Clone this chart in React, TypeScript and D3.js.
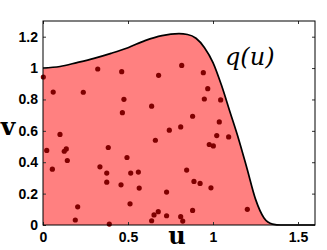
import React, { useEffect, useRef } from "react";
import * as d3 from "d3";

// curve q(u)
const curveU = [0, 0.1, 0.2, 0.3, 0.4, 0.5, 0.6, 0.7, 0.8, 0.85, 0.9, 0.95, 1.0, 1.05, 1.1, 1.15, 1.2, 1.25, 1.3, 1.35, 1.4, 1.5, 1.6];
const curveV = [1.0, 1.01, 1.035, 1.062, 1.094, 1.13, 1.175, 1.207, 1.219, 1.214, 1.19, 1.13, 1.035, 0.89, 0.72, 0.55, 0.36, 0.165, 0.045, 0.006, 0, 0, 0];

// sample points
const dotU = [0.002, 0.06, 0.237, 0.322, 0.463, 0.68, 0.476, 0.467, 0.639, 0.816, 0.943, 0.969, 0.949, 1.045, 0.88, 1.037,
  0.022, 0.1, 0.125, 0.137, 0.143, 0.055, 0.384, 0.335, 0.375, 0.375, 0.494, 0.516, 0.561, 0.459, 0.566, 0.512, 0.204, 0.19, 0.39,
  0.661, 0.639, 0.653, 0.678, 0.743, 0.81, 1.022, 1.092, 0.978, 1.002, 0.845, 0.888, 0.924, 0.988, 0.727, 0.88, 1.202, 0.727, 0.81, 0.822];
const dotV = [0.943, 0.847, 0.846, 0.994, 0.977, 0.954, 0.801, 0.716, 0.757, 1.017, 0.971, 0.869, 0.803, 0.797, 0.693, 0.657,
  0.475, 0.577, 0.47, 0.485, 0.411, 0.356, 0.494, 0.371, 0.331, 0.273, 0.43, 0.331, 0.337, 0.256, 0.235, 0.135, 0.116, 0.032, 0.006,
  0.54, 0.027, 0.064, 0.085, 0.604, 0.625, 0.57, 0.561, 0.513, 0.504, 0.35, 0.278, 0.265, 0.237, 0.21, 0.093, 0.1, 0.059, 0.053, 0.025];

const xTicks = [0, 0.5, 1, 1.5];
const yTicks = [0, 0.2, 0.4, 0.6, 0.8, 1, 1.2];

const App: React.FC = () => {
  const ref = useRef<SVGSVGElement | null>(null);

  useEffect(() => {
    if (!ref.current) return;
    const svg = d3.select(ref.current);
    svg.selectAll("*").remove();

    const margin = { top: 21, right: 12, bottom: 25, left: 43 };
    const width = 327;
    const height = 250;

    const x = d3.scaleLinear().domain([0, 1.6]).range([margin.left, width - margin.right]);
    const y = d3.scaleLinear().domain([0, 1.3]).range([height - margin.bottom, margin.top]);

    const pts = curveU.map((u, i) => [u, curveV[i]] as [number, number]);

    // filled region
    const area = d3
      .area<[number, number]>()
      .x((d) => x(d[0]))
      .y0(y(0))
      .y1((d) => y(d[1]))
      .curve(d3.curveMonotoneX);
    svg.append("path").datum(pts).attr("d", area).attr("fill", "#ff8080");

    // dots
    svg
      .append("g")
      .selectAll("circle")
      .data(dotU.map((u, i) => [u, dotV[i]]))
      .join("circle")
      .attr("cx", (d) => x(d[0]))
      .attr("cy", (d) => y(d[1]))
      .attr("r", 2.6)
      .attr("fill", "#800000");

    // curve
    const line = d3
      .line<[number, number]>()
      .x((d) => x(d[0]))
      .y((d) => y(d[1]))
      .curve(d3.curveMonotoneX);
    svg
      .append("path")
      .datum(pts)
      .attr("d", line)
      .attr("fill", "none")
      .attr("stroke", "#000")
      .attr("stroke-width", 1.7);

    // axes
    const fmt = (d: d3.NumberValue) => String(d);
    const bottom = svg
      .append("g")
      .attr("transform", `translate(0,${y(0)})`)
      .call(d3.axisBottom(x).tickValues(xTicks).tickSize(-3).tickPadding(7).tickFormat(fmt));
    const left = svg
      .append("g")
      .attr("transform", `translate(${x(0)},0)`)
      .call(d3.axisLeft(y).tickValues(yTicks).tickSize(-3).tickPadding(5).tickFormat(fmt));
    svg
      .append("g")
      .attr("transform", `translate(0,${y(1.3)})`)
      .call(d3.axisTop(x).tickValues(xTicks).tickSize(-3).tickFormat(() => ""));
    svg
      .append("g")
      .attr("transform", `translate(${x(1.6)},0)`)
      .call(d3.axisRight(y).tickValues(yTicks).tickSize(-3).tickFormat(() => ""));

    svg.selectAll(".domain").remove();
    svg.selectAll(".tick line").attr("stroke", "#333");
    [bottom, left].forEach((g) =>
      g
        .selectAll("text")
        .attr("font-family", "Liberation Sans, Arial, sans-serif")
        .attr("font-weight", "bold")
        .attr("font-size", 14)
        .attr("fill", "#000")
    );

    svg
      .append("rect")
      .attr("x", x(0))
      .attr("y", y(1.3))
      .attr("width", x(1.6) - x(0))
      .attr("height", y(0) - y(1.3))
      .attr("fill", "none")
      .attr("stroke", "#000")
      .attr("stroke-width", 1);

    // labels
    svg
      .append("text")
      .attr("x", 177)
      .attr("y", 244)
      .attr("text-anchor", "middle")
      .attr("font-family", "DejaVu Serif, serif")
      .attr("font-weight", "bold")
      .attr("font-size", 24)
      .text("u");
    svg
      .append("text")
      .attr("x", 8)
      .attr("y", 135)
      .attr("text-anchor", "middle")
      .attr("font-family", "DejaVu Serif, serif")
      .attr("font-weight", "bold")
      .attr("font-size", 25)
      .text("v");
    svg
      .append("text")
      .attr("x", 225)
      .attr("y", 65)
      .attr("font-family", "DejaVu Serif, serif")
      .attr("font-style", "italic")
      .attr("font-size", 24)
      .text("q(u)");
  }, []);

  return (
    <svg
      ref={ref}
      width={327}
      height={250}
      style={{ position: "absolute", top: 0, left: 0, background: "#fff" }}
    ></svg>
  );
};

export default App;
